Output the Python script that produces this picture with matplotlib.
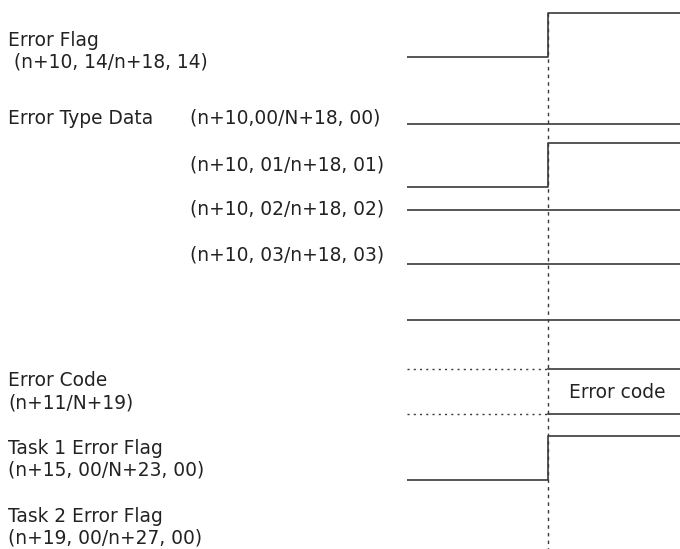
import matplotlib
matplotlib.use("Agg")
import matplotlib.pyplot as plt

# ---- data: timing diagram signals ----
signal_names = ["Error Flag", "Error Type Data", "", "", "", "", "Error Code", "Task 1 Error Flag", "Task 2 Error Flag"]
signal_addrs = ["(n+10, 14/n+18, 14)", "(n+10,00/N+18, 00)", "(n+10, 01/n+18, 01)",
                "(n+10, 02/n+18, 02)", "(n+10, 03/n+18, 03)", "", "(n+11/N+19)",
                "(n+15, 00/N+23, 00)", "(n+19, 00/n+27, 00)"]
# level before / after the error event (0 = low, 1 = high, None = not drawn)
level_before = [0, 0, 0, 0, 0, 0, None, 0, None]
level_after  = [1, 0, 1, 0, 0, 0, None, 1, None]
kind = ["bit", "bit", "bit", "bit", "bit", "bit", "word", "bit", "none"]
word_text = "Error code"

# time axis (normalized): start, error event, end
t_start, t_event, t_end = 0.0, 1.0, 1.936

# ---- layout ----
W, H = 680, 549
fig = plt.figure(figsize=(W / 100, H / 100), dpi=100)
ax = fig.add_axes([0, 0, 1, 1])
px_per_t = 141.0
x0 = 407.0
ax.set_xlim(-x0 / px_per_t, (W - x0) / px_per_t)
ax.set_ylim(H, 0)
ax.axis("off")

low_y = [57, 124, 187, 210, 264, 320, 414, 480, None]
amp = 44
word_top = 369
text_y1 = [40, 118, 165, 209, 255, None, 381, 449, 517]
text_y2 = [62, None, None, None, None, None, 403, 470, 538]

col = "#3a3a3a"
lw = 1.2
fs = 13.4
fam = ["DejaVu Sans"]
tcol = "#222222"

def lev(i, v):
    return low_y[i] - amp * v

for i in range(len(signal_names)):
    if kind[i] == "bit":
        yb, ya = lev(i, level_before[i]), lev(i, level_after[i])
        ax.plot([t_start, t_event, t_event, t_end], [yb, yb, ya, ya],
                color=col, lw=lw, solid_capstyle="butt")
    elif kind[i] == "word":
        for yy in (word_top, low_y[i]):
            ax.plot([t_start, t_event], [yy, yy], color=col, lw=1.0, ls=(0, (1.5, 3)))
            ax.plot([t_event, t_end], [yy, yy], color=col, lw=lw)
        ax.text((t_event + t_end) / 2 + 0.025, (word_top + low_y[i]) / 2 + 1, word_text,
                ha="center", va="center", fontsize=fs, color=tcol, family=fam)

ax.plot([t_event, t_event], [lev(0, 1), H], color=col, lw=1.0, ls=(0, (2.5, 3)))

def px(x):
    return (x - x0) / px_per_t

for i in range(len(signal_names)):
    if text_y1[i] is None:
        continue
    if 1 <= i <= 4:
        if signal_names[i]:
            ax.text(px(8), text_y1[i], signal_names[i], ha="left", va="center",
                    fontsize=fs, color=tcol, family=fam)
        ax.text(px(190), text_y1[i], signal_addrs[i], ha="left", va="center",
                fontsize=fs, color=tcol, family=fam)
    else:
        ax.text(px(8), text_y1[i], signal_names[i], ha="left", va="center",
                fontsize=fs, color=tcol, family=fam)
        pre = " " if i == 0 else ""
        ax.text(px(8), text_y2[i], pre + signal_addrs[i], ha="left", va="center",
                fontsize=fs, color=tcol, family=fam)

fig.savefig("out.png", dpi=100)
